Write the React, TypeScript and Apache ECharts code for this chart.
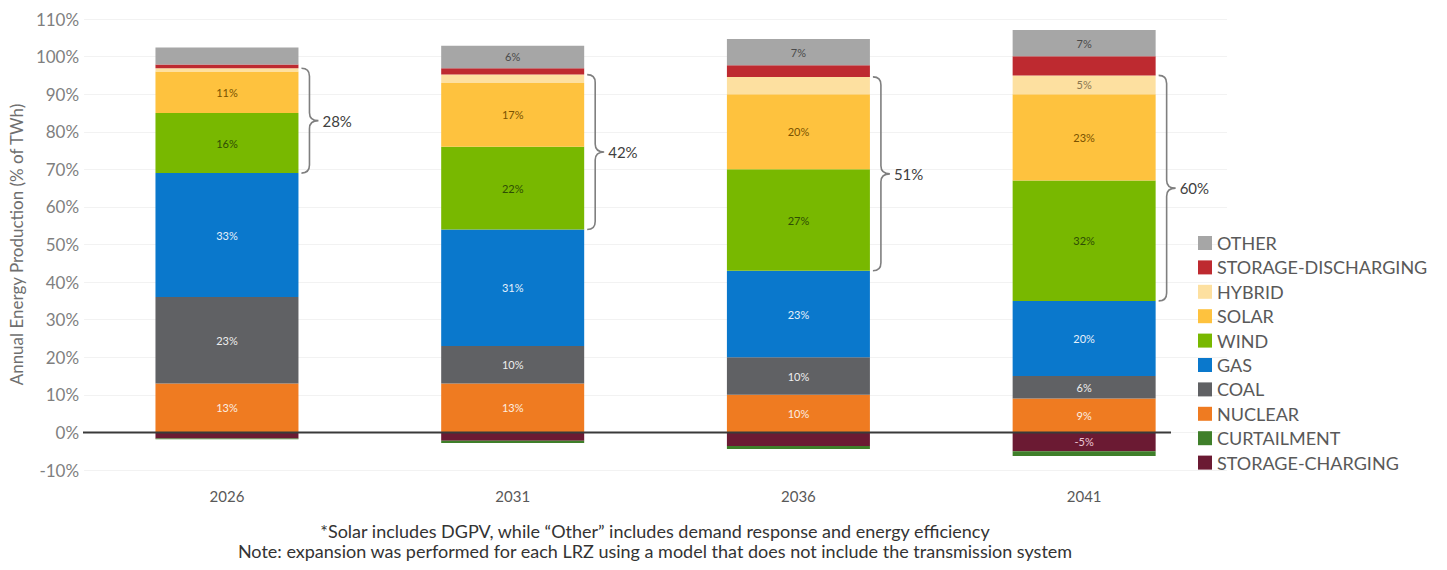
import React, { useEffect, useRef } from "react";
import * as echarts from "echarts";

// Scenario years and generation mix (% of annual TWh)
const years = ["2026", "2031", "2036", "2041"];
const nuclear = [13, 13, 10, 9];
const coal = [23, 10, 10, 6];
const gas = [33, 31, 23, 20];
const wind = [16, 22, 27, 32];
const solar = [11, 17, 20, 23];
const hybrid = [0.9, 2.2, 4.6, 5];
const storageDischarging = [1, 1.7, 3.1, 5.1];
const other = [4.5, 6, 7, 7];
const curtailment = [-0.2, -0.6, -0.8, -1.3];
const storageCharging = [-1.6, -2.2, -3.6, -5];

// Renewable share (wind + solar + hybrid) called out beside each bar
const renewableShare = ["28%", "42%", "51%", "60%"];

const yTicks = [-10, 110, 10]; // min, max, step

const footnotes = [
  "*Solar includes DGPV, while \u201cOther\u201d includes demand response and energy efficiency",
  "Note: expansion was performed for each LRZ using a model that does not include the transmission system",
];

const FONT = "Lato, 'Noto Sans', sans-serif";

// Curly brace "}" spanning y1..y2, starting at x
const Brace = echarts.graphic.extendShape({
  shape: { x: 0, y1: 0, y2: 0, body: 8, tip: 17, r: 8 },
  buildPath(ctx: any, s: any) {
    const bx = s.x + s.body;
    const tx = s.x + s.tip;
    const ym = (s.y1 + s.y2) / 2;
    const r = s.r;
    ctx.moveTo(s.x, s.y1);
    ctx.quadraticCurveTo(bx, s.y1, bx, s.y1 + r);
    ctx.lineTo(bx, ym - r);
    ctx.quadraticCurveTo(bx, ym, tx, ym);
    ctx.moveTo(tx, ym);
    ctx.quadraticCurveTo(bx, ym, bx, ym + r);
    ctx.lineTo(bx, s.y2 - r);
    ctx.quadraticCurveTo(bx, s.y2, s.x, s.y2);
  },
});
echarts.graphic.registerShape("brace", Brace);

type S = { name: string; data: number[]; color: string; labelColor?: string };

// Stack order: negative parts first (nearest zero), then positives bottom-up
const seriesDefs: S[] = [
  { name: "STORAGE-CHARGING", data: storageCharging, color: "#6b1a33", labelColor: "#ecc5d4" },
  { name: "CURTAILMENT", data: curtailment, color: "#3f7f2a" },
  { name: "NUCLEAR", data: nuclear, color: "#ef7b21", labelColor: "#fbeee2" },
  { name: "COAL", data: coal, color: "#606164", labelColor: "#eeeeee" },
  { name: "GAS", data: gas, color: "#0a78cc", labelColor: "#e6f0fa" },
  { name: "WIND", data: wind, color: "#78b800", labelColor: "#2f4d05" },
  { name: "SOLAR", data: solar, color: "#fec23e", labelColor: "#7a5200" },
  { name: "HYBRID", data: hybrid, color: "#fde0a0", labelColor: "#8a7650" },
  { name: "STORAGE-DISCHARGING", data: storageDischarging, color: "#be2a30" },
  { name: "OTHER", data: other, color: "#a6a6a6", labelColor: "#4a4a4a" },
];

const legendOrder = [
  "OTHER",
  "STORAGE-DISCHARGING",
  "HYBRID",
  "SOLAR",
  "WIND",
  "GAS",
  "COAL",
  "NUCLEAR",
  "CURTAILMENT",
  "STORAGE-CHARGING",
];

const BAR_W = 143;

export default function App() {
  const ref = useRef<HTMLDivElement>(null);

  useEffect(() => {
    if (!ref.current) return;
    const chart = echarts.init(ref.current, undefined, { renderer: "svg" });

    const series = seriesDefs.map((d) => ({
      name: d.name,
      type: "bar",
      stack: "mix",
      barWidth: BAR_W,
      data: d.data,
      itemStyle: { color: d.color },
      label: {
        show: !!d.labelColor,
        position: "inside",
        color: d.labelColor,
        fontFamily: FONT,
        fontSize: 11,
        formatter: (p: any) => (Math.abs(p.value) >= 5 ? `${Math.round(p.value)}%` : ""),
      },
    }));

    chart.setOption({
      animation: false,
      textStyle: { fontFamily: FONT },
      grid: { left: 82, top: 19, width: BAR_W * 2 * years.length + 1, bottom: 100 },
      legend: {
        orient: "vertical",
        left: 1193,
        top: 229,
        itemWidth: 14,
        itemHeight: 14,
        itemGap: 6.4,
        icon: "rect",
        data: legendOrder,
        selectedMode: false,
        textStyle: { fontSize: 18, lineHeight: 14, color: "#595959", fontFamily: FONT },
      },
      xAxis: {
        type: "category",
        data: years,
        axisLine: { show: false, onZero: false },
        axisTick: { show: false },
        axisLabel: { color: "#595959", fontSize: 15, margin: 18 },
      },
      yAxis: {
        type: "value",
        min: yTicks[0],
        max: yTicks[1],
        interval: yTicks[2],
        name: "Annual Energy Production (% of TWh)",
        nameLocation: "middle",
        nameGap: 58,
        nameTextStyle: { color: "#6f6f6f", fontSize: 17 },
        axisLabel: { color: "#7f7f7f", fontSize: 17, margin: 5, formatter: "{value}%" },
        axisLine: { show: false },
        axisTick: { show: false },
        splitLine: { lineStyle: { color: "#f2f2f2", width: 1 } },
      },
      series,
    });

    // Annotations placed from the data through the chart's own scales
    const graphics: any[] = [];
    years.forEach((_, i) => {
      const base = nuclear[i] + coal[i] + gas[i];
      const top = base + wind[i] + solar[i] + hybrid[i];
      const pBase = chart.convertToPixel({ gridIndex: 0 }, [i, base]) as number[];
      const pTop = chart.convertToPixel({ gridIndex: 0 }, [i, top]) as number[];
      const x0 = pBase[0] + BAR_W / 2 + 3;
      graphics.push({
        type: "brace",
        shape: { x: x0, y1: pTop[1], y2: pBase[1], body: 8, tip: 17, r: 8 },
        style: { stroke: "#7f7f7f", fill: null, lineWidth: 1.6 },
        z: 50,
      });
      graphics.push({
        type: "text",
        x: x0 + 21,
        y: (pTop[1] + pBase[1]) / 2,
        style: {
          text: renewableShare[i],
          fill: "#404040",
          fontSize: 15,
          fontFamily: FONT,
          verticalAlign: "middle",
        },
        z: 50,
      });
    });
    const zeroY = chart.convertToPixel({ yAxisIndex: 0 }, 0) as number;
    graphics.push({
      type: "line",
      shape: { x1: 83, y1: zeroY, x2: 1171, y2: zeroY },
      style: { stroke: "#3a3a3a", lineWidth: 2 },
      z: 60,
    });
    footnotes.forEach((t, k) => {
      graphics.push({
        type: "text",
        x: 655,
        y: 531 + k * 20,
        style: {
          text: t,
          fill: "#333333",
          fontSize: 18,
          fontFamily: FONT,
          align: "center",
          verticalAlign: "middle",
        },
      });
    });
    chart.setOption({ graphic: graphics });

    return () => chart.dispose();
  }, []);

  return (
    <div
      ref={ref}
      style={{ position: "fixed", left: 0, top: 0, width: 1447, height: 570, background: "#ffffff" }}
    />
  );
}
